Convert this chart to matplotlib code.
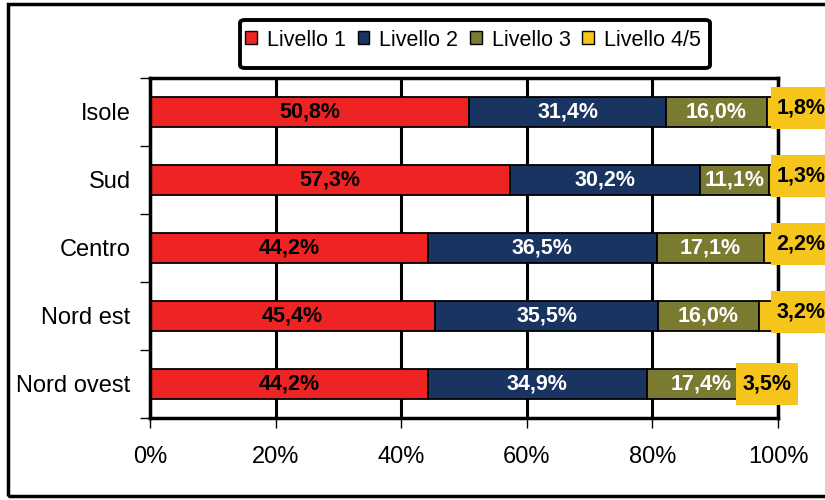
import matplotlib.pyplot as plt
import matplotlib.patches as patches
import numpy as np

plt.rcParams['font.family'] = ['Liberation Sans', 'DejaVu Sans']

regions = ['Isole', 'Sud', 'Centro', 'Nord est', 'Nord ovest']
levels = ['Livello 1', 'Livello 2', 'Livello 3', 'Livello 4/5']
livello1 = [50.8, 57.3, 44.2, 45.4, 44.2]
livello2 = [31.4, 30.2, 36.5, 35.5, 34.9]
livello3 = [16.0, 11.1, 17.1, 16.0, 17.4]
livello45 = [1.8, 1.3, 2.2, 3.2, 3.5]

colors = ['#EE2424', '#1A3461', '#7B7A31', '#F5C51C']
text_colors = ['black', 'white', 'white', 'black']


def fmt(v):
    return ('%.1f%%' % v).replace('.', ',')


def main():
    fig = plt.figure(figsize=(8.25, 5), dpi=100)
    ax = fig.add_axes([150 / 825, 82 / 500, 628 / 825, 340 / 500])

    # outer frame of the chart
    frame = patches.Rectangle((8 / 825, 4 / 500), 1.0, 492 / 500, transform=fig.transFigure,
                              fill=False, edgecolor='black', linewidth=2.5, clip_on=False)
    fig.patches.append(frame)

    series = [livello1, livello2, livello3, livello45]
    y = np.arange(len(regions))
    left = np.zeros(len(regions))
    for vals, col, name in zip(series, colors, levels):
        ax.barh(y, vals, left=left, height=0.43, color=col, edgecolor='black',
                linewidth=1.3, label=name, zorder=3)
        left = left + np.array(vals)

    # value labels
    left = np.zeros(len(regions))
    for vals, tc in zip(series[:3], text_colors[:3]):
        for i, v in enumerate(vals):
            ax.text(left[i] + v / 2, y[i], fmt(v), ha='center', va='center',
                    color=tc, fontsize=15.5, fontweight='bold', zorder=5)
        left = left + np.array(vals)

    # Livello 4/5 labels in yellow boxes (pushed past the bar end, like Excel)
    fig.canvas.draw()
    renderer = fig.canvas.get_renderer()
    for i, v in enumerate(livello45):
        center = left[i] + v / 2
        if i == len(regions) - 1:
            t = ax.text(center, y[i], fmt(v), ha='center', va='center', fontsize=15.5,
                        fontweight='bold', color='black', zorder=8, clip_on=False)
        else:
            t = ax.text(99.8, y[i] - 0.06, fmt(v), ha='left', va='center', fontsize=15.5,
                        fontweight='bold', color='black', zorder=8, clip_on=False)
        bb = t.get_window_extent(renderer)
        inv = ax.transData.inverted()
        (x0, y0), (x1, y1) = inv.transform([[bb.x0 - 5, bb.y0 - 11], [bb.x1 + 5, bb.y1 + 11]])
        ax.add_patch(patches.Rectangle((x0, min(y0, y1)), x1 - x0, abs(y1 - y0),
                                       facecolor=colors[3], edgecolor='none', zorder=7,
                                       clip_on=False))

    ax.set_xlim(0, 100)
    ax.set_ylim(len(regions) - 0.5, -0.5)
    ax.set_xticks([0, 20, 40, 60, 80, 100])
    ax.set_xticklabels(['0%', '20%', '40%', '60%', '80%', '100%'])
    ax.set_yticks(y)
    ax.set_yticklabels(regions)
    ax.set_yticks(np.arange(-0.5, len(regions)), minor=True)
    ax.tick_params(axis='y', which='major', length=0, pad=14, labelsize=17)
    ax.tick_params(axis='y', which='minor', length=7, width=1, direction='out')
    ax.tick_params(axis='x', length=7, width=1, direction='out', pad=13, labelsize=17)
    ax.xaxis.grid(True, color='black', linewidth=2.2, zorder=1)
    ax.set_axisbelow(True)
    for s in ax.spines.values():
        s.set_linewidth(2.5)
        s.set_zorder(4)

    # legend: text row near the top of a taller rounded box
    leg = fig.legend(loc='center', bbox_to_anchor=(473 / 825, 1 - 40 / 500), ncol=4,
                     fontsize=15.5, frameon=False, handlelength=0.55, handleheight=0.55,
                     handletextpad=0.45, columnspacing=0.55, borderaxespad=0)
    for h in leg.legend_handles:
        h.set_edgecolor('black')
        h.set_linewidth(1)
    box = patches.FancyBboxPatch((240 / 825, 1 - 68 / 500), 470 / 825, 48 / 500,
                                 boxstyle='round,pad=0,rounding_size=0.006',
                                 transform=fig.transFigure, facecolor='white',
                                 edgecolor='black', linewidth=2.8, zorder=0)
    fig.patches.append(box)

    fig.savefig('out.png', dpi=100)


if __name__ == "__main__":
    main()
